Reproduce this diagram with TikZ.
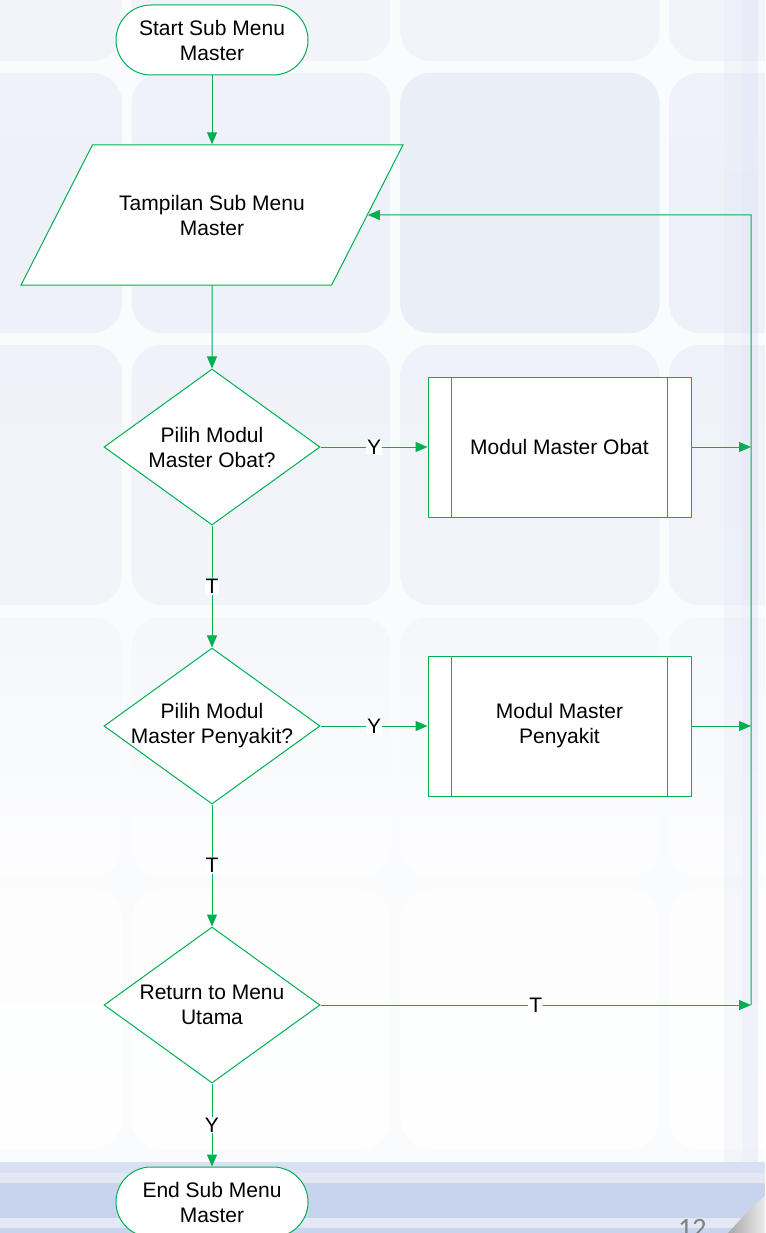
\documentclass[tikz,border=0pt]{standalone}
\usepackage{fontspec}
\setmainfont{Liberation Sans}
\newfontfamily\pagenofont{Carlito}
\usetikzlibrary{shapes.geometric,arrows.meta}
\definecolor{flowgreen}{HTML}{00B050}
\definecolor{tilecol}{HTML}{E2E7F2}
\definecolor{gapcol}{HTML}{FAFBFD}
\definecolor{bandcol}{HTML}{C8D3EE}
\definecolor{bandlight}{HTML}{E3E8F4}
\definecolor{stripcol}{HTML}{DCE1F6}
\definecolor{pagegray}{HTML}{808080}

\begin{document}
\begin{tikzpicture}[x=1pt,y=-1pt,
    font=\fontsize{21}{25}\selectfont,
    box/.style={draw=flowgreen,fill=white,line width=1pt,align=center},
    term/.style={box,rectangle,rounded corners=35pt,minimum width=192pt,minimum height=70pt},
    io/.style={box,trapezium,trapezium left angle=63,trapezium right angle=117,
      text width=190pt,align=flush center,inner xsep=24.5pt,inner ysep=50pt},
    decision/.style={box,diamond,shape aspect=1.385,inner xsep=-8pt,inner ysep=0pt,
      minimum width=216pt,minimum height=156pt},
    subproc/.style={box,rectangle,minimum width=263pt,minimum height=140pt},
    arr/.style={draw=flowgreen,line width=1pt,-{Triangle[length=12pt,width=10pt]}},
    lbl/.style={fill=white,inner sep=1pt,text=black}]
  \useasboundingbox (0,0) rectangle (765,1233);
  \clip (0,0) rectangle (765,1233);

  % slide background
  \fill[gapcol] (0,0) rectangle (765,1233);
  \foreach \r/\ta/\tb in {0/40/45,1/55/60,2/55/45,3/35/8,4/8/4}{
    \foreach \c in {0,...,3}{
      \shade[top color=tilecol!\ta!white,bottom color=tilecol!\tb!white,rounded corners=30pt]
        (-137+268.7*\c,-199+272*\r) rectangle ++(259,260);
    }
  }
  \fill[tilecol!72!white,rounded corners=30pt] (400.4,73) rectangle ++(259,260);
  \fill[stripcol,opacity=0.2] (724,0) rectangle (742,1233);
  \fill[stripcol,opacity=0.4] (742,0) rectangle (758,1233);
  \fill[bandlight] (0,1162) rectangle (765,1233);
  \fill[bandcol!70!white] (0,1162) rectangle (765,1173);
  \fill[bandcol] (0,1183) rectangle (765,1218);
  \fill[bandcol] (0,1228) rectangle (765,1233);
  \shade[left color=gray!70,right color=gray!15]
    (728,1233) .. controls (742,1218) and (752,1206) .. (765,1196) -- (765,1233) -- cycle;
  \node[font=\pagenofont\fontsize{28}{30}\selectfont,text=pagegray,anchor=base west,inner sep=0pt]
    (pageno) at (678,1237) {12};

  % flowchart
  \node[term] (start) at (212,40) {Start Sub Menu\\Master};
  \node[io] (menu) at (212,215) {Tampilan Sub Menu\\Master};
  \node[decision] (qobat) at (212,447) {Pilih Modul\\Master Obat?};
  \node[subproc] (mobat) at (559.5,447) {Modul Master Obat};
  \node[decision] (qpenyakit) at (212,726) {Pilih Modul\\Master Penyakit?};
  \node[subproc] (mpenyakit) at (559.5,726) {Modul Master\\Penyakit};
  \node[decision] (qreturn) at (212,1005) {Return to Menu\\Utama};
  \node[term] (end) at (212,1202) {End Sub Menu\\Master};

  \foreach \p in {mobat,mpenyakit}{
    \draw[flowgreen,line width=1pt] ([xshift=24pt]\p.north west) -- ([xshift=24pt]\p.south west);
    \draw[flowgreen,line width=1pt] ([xshift=-24pt]\p.north east) -- ([xshift=-24pt]\p.south east);
  }

  \coordinate (jobat) at (751,447);
  \coordinate (jpenyakit) at (751,726);
  \coordinate (jreturn) at (751,1005);
  \coordinate (jmenu) at (751,215);

  \draw[arr] (start) -- (menu);
  \draw[arr] (menu) -- (qobat);
  \draw[arr] (qobat) -- node[lbl] {Y} (mobat);
  \draw[arr] (mobat) -- (jobat);
  \draw[arr] (qobat) -- node[lbl] {T} (qpenyakit);
  \draw[arr] (qpenyakit) -- node[lbl] {Y} (mpenyakit);
  \draw[arr] (mpenyakit) -- (jpenyakit);
  \draw[arr] (qpenyakit) -- node[lbl] {T} (qreturn);
  \draw[arr] (qreturn) -- node[lbl] {T} (jreturn);
  \draw[arr] (qreturn) -- node[lbl] {Y} (end);
  \draw[arr] (jreturn) -- (jmenu) -- (menu.east);
\end{tikzpicture}
\end{document}
